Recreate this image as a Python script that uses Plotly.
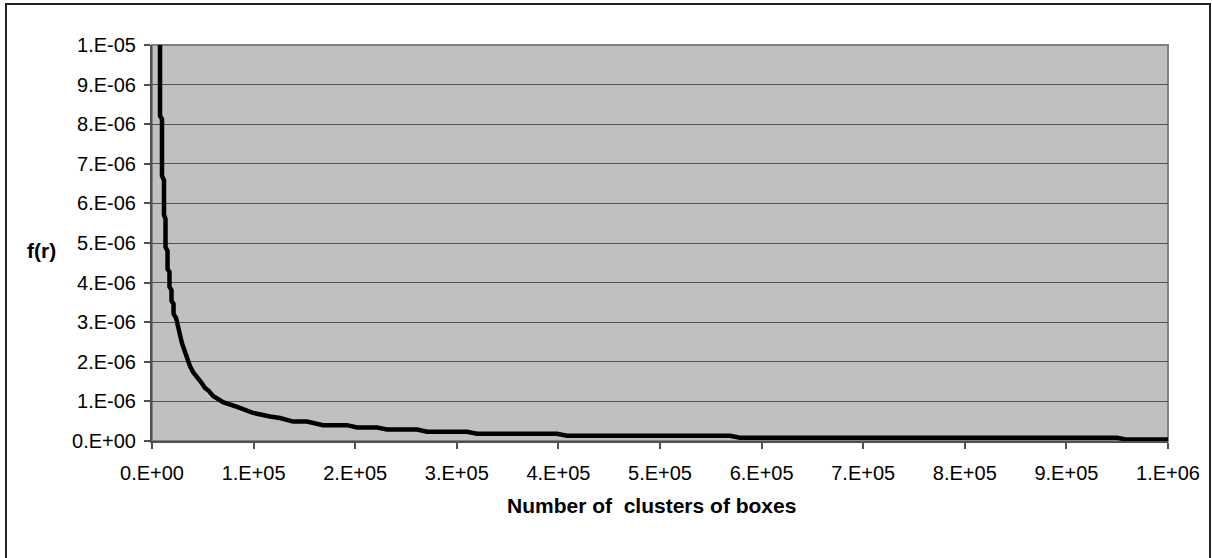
import plotly.graph_objects as go

# Data (number of clusters vs f(r))
n_clusters = [7900, 7900, 9840, 9840, 11800, 11800, 13300, 13300, 15300, 15300,
              17200, 17200, 19200, 19200, 21200, 21200, 23600, 24600, 27600, 29500,
              32500, 34400, 37400, 40400, 44300, 48200, 52200, 56100, 60000, 69900,
              83700, 99400, 116100, 126000, 138800, 152600, 168300, 191900, 201800, 221500,
              231300, 260800, 270700, 310000, 319900, 398600, 408500, 568900, 578700, 949800,
              959600, 1000000]
f_r = [1.0e-5, 8.21e-6, 8.13e-6, 6.69e-6, 6.59e-6, 5.71e-6, 5.61e-6, 4.90e-6, 4.80e-6, 4.34e-6,
       4.27e-6, 3.89e-6, 3.81e-6, 3.54e-6, 3.46e-6, 3.21e-6, 3.11e-6, 2.98e-6, 2.70e-6, 2.47e-6,
       2.25e-6, 2.10e-6, 1.89e-6, 1.74e-6, 1.59e-6, 1.49e-6, 1.34e-6, 1.26e-6, 1.14e-6, 0.98e-6,
       0.86e-6, 0.71e-6, 0.62e-6, 0.58e-6, 0.49e-6, 0.49e-6, 0.40e-6, 0.40e-6, 0.34e-6, 0.34e-6,
       0.29e-6, 0.29e-6, 0.235e-6, 0.235e-6, 0.184e-6, 0.184e-6, 0.134e-6, 0.134e-6, 0.083e-6, 0.083e-6,
       0.035e-6, 0.035e-6]

x_tickvals = [0, 1e5, 2e5, 3e5, 4e5, 5e5, 6e5, 7e5, 8e5, 9e5, 1e6]
x_ticktext = ["0.E+00", "1.E+05", "2.E+05", "3.E+05", "4.E+05", "5.E+05",
              "6.E+05", "7.E+05", "8.E+05", "9.E+05", "1.E+06"]
y_tickvals = [0, 1e-6, 2e-6, 3e-6, 4e-6, 5e-6, 6e-6, 7e-6, 8e-6, 9e-6, 1e-5]
y_ticktext = ["0.E+00", "1.E-06", "2.E-06", "3.E-06", "4.E-06", "5.E-06",
              "6.E-06", "7.E-06", "8.E-06", "9.E-06", "1.E-05"]

x_title = "Number of&nbsp;&nbsp;clusters of boxes"
y_title = "f(r)"

FONT = "Liberation Sans, Arial, sans-serif"

fig = go.Figure()
fig.add_trace(go.Scatter(x=n_clusters, y=f_r, mode="lines",
                         line=dict(color="black", width=4.5), hoverinfo="skip",
                         showlegend=False))

L, R, T, B = 152, 44, 45, 117
W, H = 1212, 558
pw, ph = W - L - R, H - T - B

def px(xp):
    return (xp - L) / pw

def py(yp):
    return (H - B - yp) / ph

fig.update_layout(
    width=W, height=H,
    margin=dict(l=L, r=R, t=T, b=B, pad=0),
    paper_bgcolor="white",
    plot_bgcolor="#C0C0C0",
    font=dict(family=FONT, size=20, color="black"),
    xaxis=dict(range=[0, 1e6], tickvals=x_tickvals, ticktext=x_ticktext,
               showgrid=False, zeroline=False, showline=True,
               linecolor="#505050", linewidth=2, ticks="outside", ticklen=6,
               tickcolor="#505050", tickwidth=2, ticklabelstandoff=7),
    yaxis=dict(range=[0, 1e-5], tickvals=y_tickvals, ticktext=y_ticktext,
               showgrid=True, gridcolor="#505050", gridwidth=1,
               zeroline=False, showline=True,
               linecolor="#505050", linewidth=2, ticks="outside", ticklen=6,
               tickcolor="#505050", tickwidth=2, ticklabelstandoff=4),
    shapes=[
        dict(type="rect", xref="paper", yref="paper", x0=0, x1=1, y0=0, y1=1,
             line=dict(color="#808080", width=2), layer="below"),
        dict(type="rect", xref="paper", yref="paper",
             x0=px(6), x1=px(1210), y0=py(4), y1=py(575),
             line=dict(color="#222222", width=2)),
    ],
    annotations=[
        dict(text="<b>" + x_title + "</b>", xref="paper", yref="paper",
             x=px(651), y=py(505), showarrow=False, xanchor="center", yanchor="middle",
             font=dict(family=FONT, size=21, color="black")),
        dict(text="<b>" + y_title + "</b>", xref="paper", yref="paper",
             x=px(41), y=py(250), showarrow=False, xanchor="center", yanchor="middle",
             font=dict(family=FONT, size=21, color="black")),
    ],
)

fig.write_html("out.html", config={"displayModeBar": False},
               post_script="document.body.style.margin='0';document.body.style.overflow='hidden';")
